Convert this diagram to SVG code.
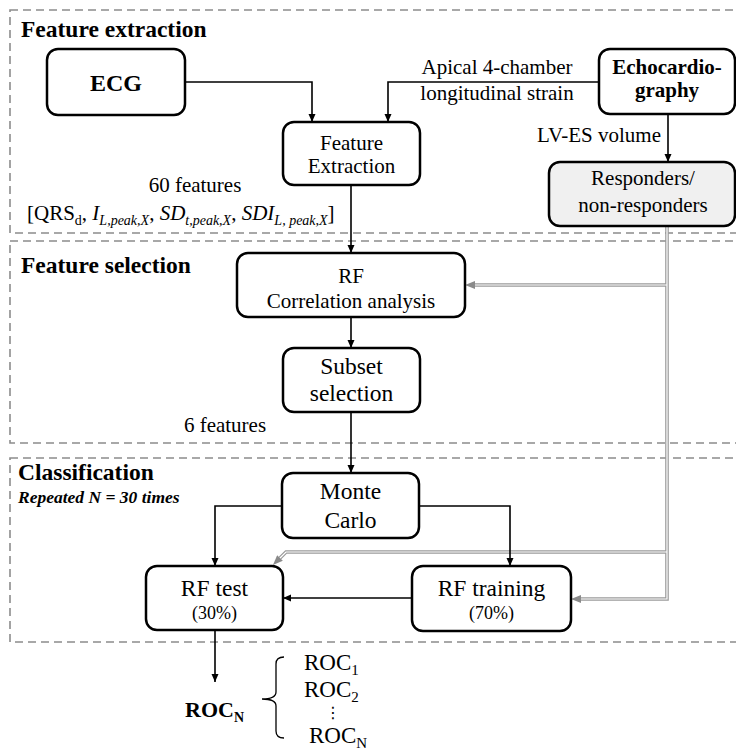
<svg xmlns="http://www.w3.org/2000/svg" width="736" height="751" viewBox="0 0 736 751">
<defs>
<style>
.sec{fill:none;stroke:#8c8c8c;stroke-width:1.6;stroke-dasharray:8,5}
.box{fill:#fff;stroke:#000;stroke-width:2.5}
.grey{fill:#f0f0f0;stroke:#000;stroke-width:2.5}
.c{fill:none;stroke:#000;stroke-width:1.6}
.go{fill:none;stroke:#9a9a9a;stroke-width:3.6}
.gi{fill:none;stroke:#fff;stroke-width:1.2}
.txt{font-family:"Liberation Serif","Times New Roman",serif;fill:#000}
.bold{font-weight:bold}
.ctr{text-anchor:middle}
</style>
<marker id="ah" markerUnits="userSpaceOnUse" markerWidth="8" markerHeight="8" refX="8" refY="4" orient="auto"><path d="M0,0.5 L8,4 L0,7.5 z" fill="#000"/></marker>
<marker id="gh" markerUnits="userSpaceOnUse" markerWidth="10" markerHeight="8" refX="0" refY="4" orient="auto"><path d="M0,0 L10,4 L0,8 z" fill="#8a8a8a"/></marker>
</defs>
<rect x="0" y="0" width="736" height="751" fill="#fff"/>

<g id="sections">
<rect class="sec" x="10" y="10" width="740" height="223"/>
<rect class="sec" x="10" y="241" width="740" height="202"/>
<rect class="sec" x="10" y="458" width="740" height="184"/>
<text class="txt bold" x="21" y="37" font-size="23.5">Feature extraction</text>
<text class="txt bold" x="21" y="273" font-size="23.5">Feature selection</text>
<text class="txt bold" x="18" y="480" font-size="23.5">Classification</text>
<text class="txt bold" x="18" y="503" font-size="17.5" font-style="italic">Repeated N = 30 times</text>
</g>

<g id="connectors">
<path class="go" d="M667,226 V599 H581"/>
<path class="go" d="M667,285 H475"/>
<path class="go" d="M667,552 H286 L280,558"/>
<path class="gi" d="M667,226 V599 H581" marker-end="url(#gh)"/>
<path class="gi" d="M667,285 H475" marker-end="url(#gh)"/>
<path class="gi" d="M667,552 H286 L280,558" marker-end="url(#gh)"/>
<path class="c" d="M185,82 H312 V122" marker-end="url(#ah)"/>
<path class="c" d="M599,82 H388 V122" marker-end="url(#ah)"/>
<path class="c" d="M668,114 V162" marker-end="url(#ah)"/>
<path class="c" d="M351,185 V253" marker-end="url(#ah)"/>
<path class="c" d="M351,317 V348" marker-end="url(#ah)"/>
<path class="c" d="M351,412 V473" marker-end="url(#ah)"/>
<path class="c" d="M282,506 H215 V566" marker-end="url(#ah)"/>
<path class="c" d="M419,506 H510 V566" marker-end="url(#ah)"/>
<path class="c" d="M412,598 H283" marker-end="url(#ah)"/>
<path class="c" d="M215,630 V682" marker-end="url(#ah)"/>
<text class="txt ctr" x="497" y="74" font-size="21">Apical 4-chamber</text>
<text class="txt ctr" x="497" y="100" font-size="21">longitudinal strain</text>
<text class="txt" x="661" y="142" font-size="21" text-anchor="end">LV-ES volume</text>
<text class="txt ctr" x="195" y="192" font-size="21">60 features</text>
<text class="txt" x="27" y="220" font-size="21">[QRS<tspan font-size="14" dy="5">d</tspan><tspan dy="-5">, </tspan><tspan font-style="italic">I</tspan><tspan font-size="14" font-style="italic" dy="5">L,peak,X</tspan><tspan dy="-5">, </tspan><tspan font-style="italic">SD</tspan><tspan font-size="14" font-style="italic" dy="5">t,peak,X</tspan><tspan dy="-5">, </tspan><tspan font-style="italic">SDI</tspan><tspan font-size="14" font-style="italic" dy="5">L, peak,X</tspan><tspan dy="-5">]</tspan></text>
<text class="txt ctr" x="225" y="432" font-size="21">6 features</text>
</g>

<g id="ecg">
<rect class="box" x="47" y="49" width="138" height="66" rx="11"/>
<text class="txt bold ctr" x="116" y="91" font-size="24">ECG</text>
</g>
<g id="echo">
<rect class="box" x="599" y="49" width="136" height="65" rx="11"/>
<text class="txt bold ctr" x="667" y="74" font-size="21">Echocardio-</text>
<text class="txt bold ctr" x="667" y="97" font-size="21">graphy</text>
</g>
<g id="feature-extraction">
<rect class="box" x="283" y="122" width="137" height="63" rx="11"/>
<text class="txt ctr" x="351.5" y="150" font-size="21">Feature</text>
<text class="txt ctr" x="351.5" y="173" font-size="21">Extraction</text>
</g>
<g id="responders">
<rect class="grey" x="549" y="162" width="186" height="64" rx="11"/>
<text class="txt ctr" x="643" y="185" font-size="21">Responders/</text>
<text class="txt ctr" x="643" y="212" font-size="21">non-responders</text>
</g>
<g id="rf-correlation">
<rect class="box" x="237" y="253" width="228" height="64" rx="11"/>
<text class="txt ctr" x="351" y="283" font-size="21">RF</text>
<text class="txt ctr" x="351" y="308" font-size="21">Correlation analysis</text>
</g>
<g id="subset">
<rect class="box" x="283" y="348" width="137" height="64" rx="11"/>
<text class="txt ctr" x="351.5" y="374" font-size="23.5">Subset</text>
<text class="txt ctr" x="351.5" y="401" font-size="23.5">selection</text>
</g>
<g id="monte-carlo">
<rect class="box" x="282" y="473" width="137" height="65" rx="11"/>
<text class="txt ctr" x="350.5" y="499" font-size="23.5">Monte</text>
<text class="txt ctr" x="350.5" y="528" font-size="23.5">Carlo</text>
</g>
<g id="rf-test">
<rect class="box" x="146" y="566" width="137" height="64" rx="11"/>
<text class="txt ctr" x="214.5" y="596" font-size="23.5">RF test</text>
<text class="txt ctr" x="214.5" y="619" font-size="18">(30%)</text>
</g>
<g id="rf-training">
<rect class="box" x="412" y="566" width="159" height="65" rx="11"/>
<text class="txt ctr" x="491.5" y="596" font-size="23.5">RF training</text>
<text class="txt ctr" x="491.5" y="619" font-size="18">(70%)</text>
</g>
<g id="roc">
<text class="txt bold" x="185" y="717" font-size="22">ROC<tspan font-size="14" dy="5">N</tspan></text>
<path d="M284,657 Q276,657 276,664 L276,692 Q276,699 262,699 Q276,699 276,706 L276,731 Q276,738 284,738" fill="none" stroke="#000" stroke-width="1.3"/>
<text class="txt" x="304" y="670" font-size="23">ROC<tspan font-size="15" dy="5">1</tspan></text>
<text class="txt" x="304" y="697" font-size="23">ROC<tspan font-size="15" dy="5">2</tspan></text>
<text x="333" y="718" font-size="16" text-anchor="middle" font-family="DejaVu Sans, sans-serif">⋮</text>
<text class="txt" x="309" y="743" font-size="23">ROC<tspan font-size="15" dy="5">N</tspan></text>
</g>
</svg>
